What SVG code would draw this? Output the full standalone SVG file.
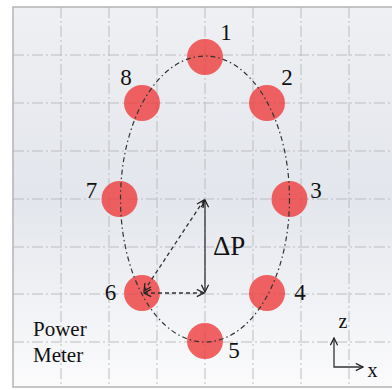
<svg xmlns="http://www.w3.org/2000/svg" width="392" height="390" viewBox="0 0 392 390">
<defs>
<linearGradient id="bg" x1="0" y1="0" x2="0" y2="1">
<stop offset="0" stop-color="#eff0f3"/>
<stop offset="0.5" stop-color="#e3e6ec"/>
<stop offset="1" stop-color="#fbfbfc"/>
</linearGradient>
<marker id="ah" viewBox="0 0 10 10" refX="9" refY="5" markerWidth="9" markerHeight="9" markerUnits="userSpaceOnUse" orient="auto-start-reverse">
<path d="M1,1 L9,5 L1,9" fill="none" stroke="#222" stroke-width="1.4"/>
</marker>
</defs>
<style>
.grid{stroke:#bcbdc0;stroke-width:1;stroke-dasharray:11 3 2 3;fill:none}
.border{stroke:#b4b4b6;stroke-width:1.5;fill:none}
.dot{fill:#ee3c3c;fill-opacity:0.8}
.num{font-family:"Liberation Serif",serif;font-size:23px;fill:#111;text-anchor:middle}
.lbl{font-family:"Liberation Serif",serif;fill:#111}
.orbit{fill:none;stroke:#333;stroke-width:1.2;stroke-dasharray:5 3 1.5 3}
.arr{fill:none;stroke:#333;stroke-width:1.3}
.dash{stroke-dasharray:4 3}
</style>
<rect x="0" y="0" width="392" height="390" fill="#ffffff"/>
<rect x="13" y="7" width="379" height="380" fill="url(#bg)"/>
<g id="grid">
<path class="grid" d="M61,7V387M109,7V387M157,7V387M205,7V387M253,7V387M301,7V387M349,7V387"/>
<path class="grid" d="M13,55H392M13,103H392M13,151H392M13,199H392M13,247H392M13,294H392M13,342H392"/>
<path class="border" d="M392,7H13V387H392"/>
</g>
<g id="n1"><circle class="dot" cx="205" cy="57" r="18"/><text class="num" x="226" y="40">1</text></g>
<g id="n2"><circle class="dot" cx="267" cy="103" r="18"/><text class="num" x="287" y="85">2</text></g>
<g id="n3"><circle class="dot" cx="289.5" cy="199" r="18"/><text class="num" x="316" y="198">3</text></g>
<g id="n4"><circle class="dot" cx="267" cy="293" r="18"/><text class="num" x="300" y="300">4</text></g>
<g id="n5"><circle class="dot" cx="205" cy="341" r="18"/><text class="num" x="234" y="358">5</text></g>
<g id="n6"><circle class="dot" cx="142" cy="293" r="18"/><text class="num" x="110.5" y="300">6</text></g>
<g id="n7"><circle class="dot" cx="119.5" cy="199" r="18"/><text class="num" x="91.5" y="198">7</text></g>
<g id="n8"><circle class="dot" cx="142" cy="103" r="18"/><text class="num" x="126" y="85">8</text></g>
<g id="connectors">
<ellipse class="orbit" cx="205" cy="199" rx="84.5" ry="143"/>
<path class="arr" d="M205,200V292" marker-start="url(#ah)" marker-end="url(#ah)"/>
<path class="arr dash" d="M144,291L204,200" marker-start="url(#ah)" marker-end="url(#ah)"/>
<path class="arr dash" d="M144,293H204" marker-start="url(#ah)" marker-end="url(#ah)"/>
<path class="arr" d="M334,338V367H363" marker-start="url(#ah)" marker-end="url(#ah)"/>
</g>
<text class="lbl" x="213" y="255" font-size="27">ΔP</text>
<text class="lbl" x="33" y="336" font-size="21">Power</text>
<text class="lbl" x="33" y="362" font-size="21">Meter</text>
<text class="lbl" x="343" y="328" font-size="20" text-anchor="middle">z</text>
<text class="lbl" x="372.5" y="377" font-size="20" text-anchor="middle">x</text>
</svg>
